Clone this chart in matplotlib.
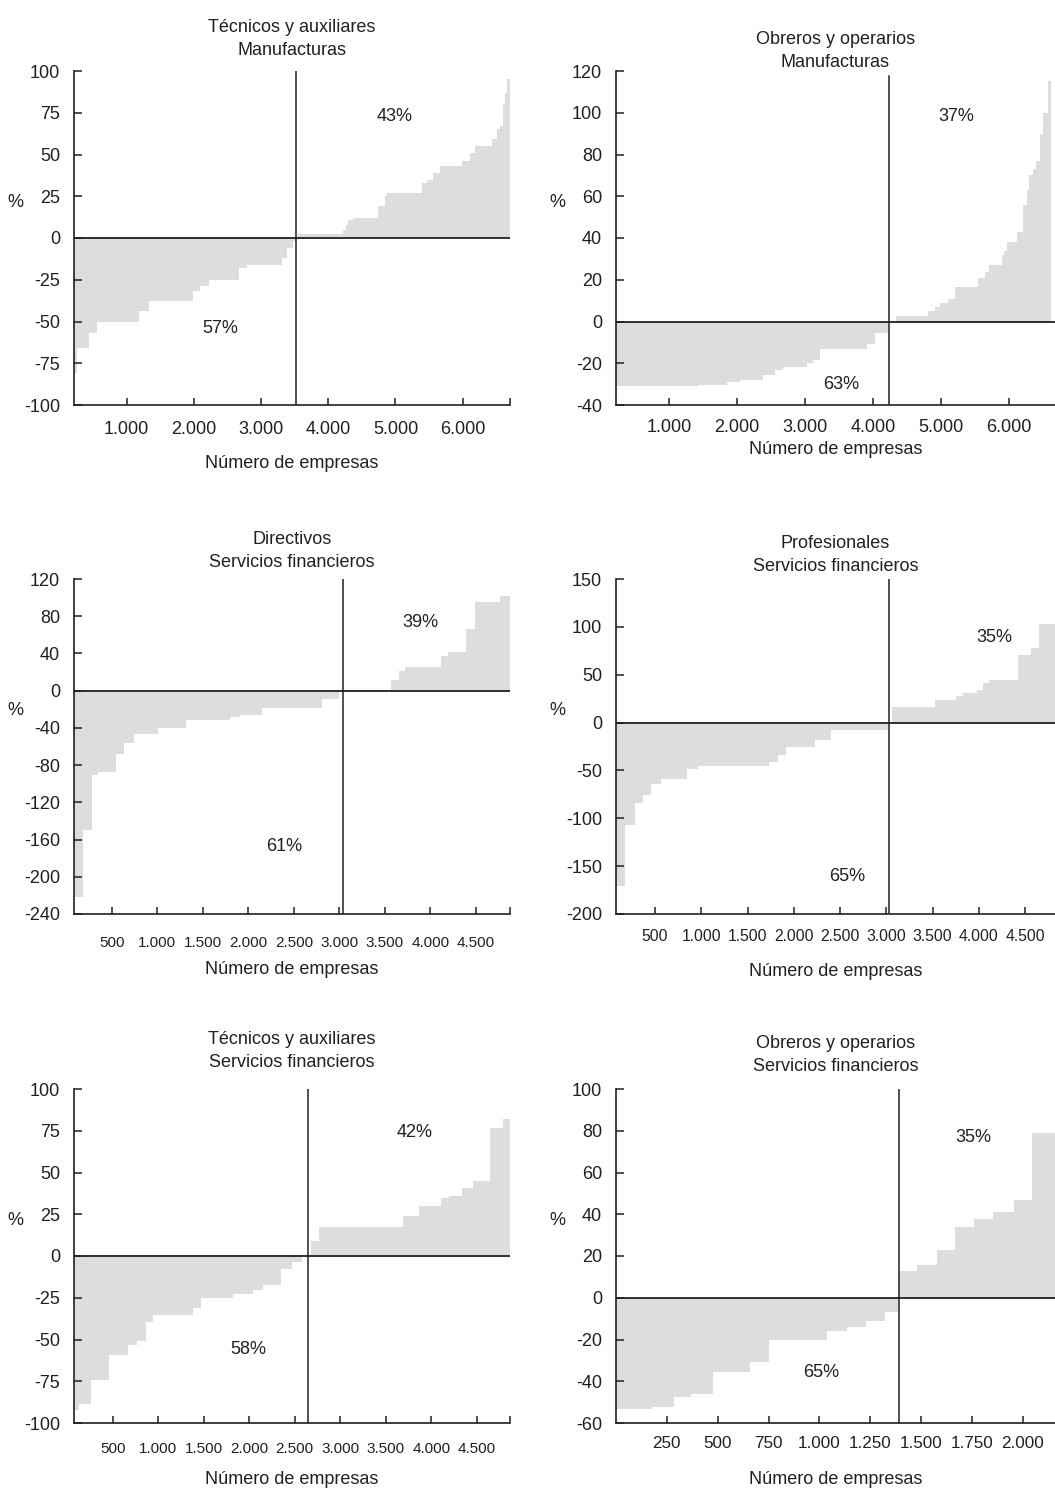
import matplotlib
matplotlib.use("Agg")
import matplotlib.pyplot as plt
from matplotlib.ticker import FuncFormatter

plt.rcParams['font.family'] = ['Liberation Sans', 'DejaVu Sans']
plt.rcParams['axes.unicode_minus'] = False

# --- data (x = firm count, y = %) ---
p1_edges = [216, 266, 444, 563, 1188, 1337, 1982, 2091, 2230, 2677, 2786, 3307, 3391, 3470, 3520, 3554,
            4224, 4260, 4298, 4373, 4745, 4844, 4869, 5390, 5464, 5563, 5663, 5985, 6109, 6184, 6432,
            6506, 6556, 6595, 6630, 6665, 6704]
p1_vals = [-81, -66, -57, -50, -44, -38, -32, -29, -25, -18, -16, -12, -6, -2, 0, 2.6,
           5, 8, 11, 12, 19, 25, 27, 33, 35, 39, 43, 46, 51, 55, 59, 65, 67, 80, 87, 95]

p2_edges = [214, 1427, 1855, 2041, 2385, 2557, 2680, 3024, 3122, 3220, 3908, 4031, 4227, 4335, 4816,
            4915, 4988, 5111, 5209, 5553, 5651, 5715, 5897, 5932, 5971, 6118, 6216, 6265, 6300, 6364,
            6403, 6462, 6511, 6585, 6619]
p2_vals = [-31, -30.3, -29, -28, -25.5, -23, -22, -20, -18.5, -13, -11, -5.5, 0, 2.4, 5, 7, 9, 11,
           16.5, 21, 23.5, 27, 32, 34, 38, 43, 56, 63, 70, 73, 77, 90, 100, 115]

p3_edges = [86, 182, 280, 354, 548, 635, 749, 1012, 1316, 1799, 1909, 2154, 2806, 3000, 3563, 3658,
            3720, 4112, 4196, 4390, 4489, 4763, 4873]
p3_vals = [-222, -150, -91, -87, -68, -56, -47, -40.5, -32, -28, -26, -19, -9, 0, 11.5, 21, 25, 37,
           41.5, 66, 95, 102]

p4_edges = [78, 176, 284, 374, 453, 565, 850, 968, 1736, 1833, 1916, 2230, 2403, 3033, 3059, 3527,
            3754, 3833, 3977, 4042, 4114, 4428, 4561, 4655, 4824]
p4_vals = [-171, -107, -84, -76, -64.5, -58.5, -49, -45.5, -41, -33.5, -25.5, -18.5, -8, 0, 16, 23.5,
           28, 30.5, 34, 41.5, 44, 71, 78, 102.5]

p5_edges = [75, 134, 258, 463, 672, 764, 863, 947, 1379, 1471, 1826, 2046, 2156, 2350, 2467, 2577,
            2676, 2771, 3694, 3870, 4104, 4200, 4335, 4456, 4646, 4793, 4866]
p5_vals = [-92.5, -88.5, -74.5, -59, -53.5, -51, -39.5, -35.5, -31, -25, -23, -20.5, -17.5, -7.5,
           -3.5, 0, 9, 17.5, 24, 30, 34.5, 36, 41, 45, 76.5, 82]

p6_edges = [0, 176, 283, 368, 479, 660, 753, 1036, 1135, 1228, 1323, 1392, 1482, 1577, 1667, 1762,
            1856, 1957, 2044, 2159]
p6_vals = [-53.5, -52.4, -47.6, -46, -35.6, -30.8, -20, -16, -14, -11, -7, 12.8, 15.8, 22.7, 33.9,
           37.5, 41, 46.6, 79]

titles = ["Técnicos y auxiliares\nManufacturas", "Obreros y operarios\nManufacturas",
          "Directivos\nServicios financieros", "Profesionales\nServicios financieros",
          "Técnicos y auxiliares\nServicios financieros", "Obreros y operarios\nServicios financieros"]
crossings = [3522, 4237, 3043, 3033, 2650, 1392]
xlims = [(216, 6704), (214, 6683), (86, 4873), (78, 4824), (75, 4866), (0, 2159)]
yticks = [range(-100, 101, 25), range(-40, 121, 20), range(-240, 121, 40),
          range(-200, 151, 50), range(-100, 101, 25), range(-60, 101, 20)]
xticks = [range(1000, 6001, 1000), range(1000, 6001, 1000), range(500, 4501, 500),
          range(500, 4501, 500), range(500, 4501, 500), range(250, 2001, 250)]
pos_share = ["43%", "37%", "39%", "35%", "42%", "35%"]
neg_share = ["57%", "63%", "61%", "65%", "58%", "65%"]
pos_xy = [(4993, 73), (5234, 98), (3892, 73), (4165, 89), (3822, 74), (1757, 77)]
neg_xy = [(2399, -54), (3529, -30), (2396, -167), (2572, -161), (1991, -56), (1007, -36)]

edges = [p1_edges, p2_edges, p3_edges, p4_edges, p5_edges, p6_edges]
vals = [p1_vals, p2_vals, p3_vals, p4_vals, p5_vals, p6_vals]

# layout in pixels (left, top, right, bottom)
W, H = 1055, 1492
boxes = [(74, 71, 510, 405), (616, 71, 1055, 405),
         (74, 579, 510, 914), (616, 579, 1055, 914),
         (74, 1089, 510, 1423), (616, 1089, 1055, 1423)]
title_pad = [11.5, 3, 8.6, 5.8, 15.8, 13]
xtick_pad = [11.5, 10, 16, 11, 13.5, 9.5]
xtick_size = [13, 13, 11, 11.3, 11, 12.3]
xlabel_off = [58, 45, 56, 57, 57, 57]
vline_top = [1, 0.984, 1, 1, 1, 1]

GRAY = '#dcdddf'
INK = '#231f20'

fig = plt.figure(figsize=(W / 100, H / 100), dpi=100)
fmt = FuncFormatter(lambda v, p: f"{int(v):,}".replace(",", "."))

for i in range(6):
    l, t, r, b = boxes[i]
    ax = fig.add_axes([l / W, 1 - b / H, (r - l) / W, (b - t) / H])
    ax.stairs(vals[i], edges[i], baseline=0, fill=True, color=GRAY, lw=0, zorder=1)
    ax.axhline(0, color=INK, lw=1.3, zorder=3)
    ax.axvline(crossings[i], ymax=vline_top[i], color=INK, lw=1.1, zorder=3)

    yt = list(yticks[i])
    ax.set_ylim(yt[0], yt[-1])
    ax.set_yticks(yt)
    ax.set_xlim(*xlims[i])
    ax.set_xticks(list(xticks[i]))
    if i % 2 == 0:
        ax.set_xticks([xlims[i][1]], minor=True)
    ax.xaxis.set_major_formatter(fmt)

    for s in ['top', 'right']:
        ax.spines[s].set_visible(False)
    for s in ['left', 'bottom']:
        ax.spines[s].set_color(INK)
        ax.spines[s].set_linewidth(1.2)
        ax.spines[s].set_zorder(4)
    ax.tick_params(axis='y', direction='in', length=6, width=1.1, color=INK,
                   labelsize=13, pad=10, labelcolor=INK)
    ax.tick_params(axis='x', which='both', direction='in', length=5, width=1.1, color=INK,
                   labelsize=xtick_size[i], pad=xtick_pad[i], labelcolor=INK)

    ax.set_title(titles[i], fontsize=13, pad=title_pad[i], linespacing=1.45, color=INK)
    ax.set_ylabel('%', fontsize=13, rotation=0, color=INK)
    ax.yaxis.set_label_coords(-59 / (r - l), 0.607)
    ax.yaxis.label.set_va('center')
    ax.set_xlabel('Número de empresas', fontsize=13, color=INK)
    ax.xaxis.set_label_coords(0.5, -xlabel_off[i] / (b - t))
    ax.xaxis.label.set_va('center')

    ax.text(*pos_xy[i], pos_share[i], fontsize=13, ha='center', va='center', color=INK)
    ax.text(*neg_xy[i], neg_share[i], fontsize=13, ha='center', va='center', color=INK)

fig.savefig('out.png', dpi=100)
